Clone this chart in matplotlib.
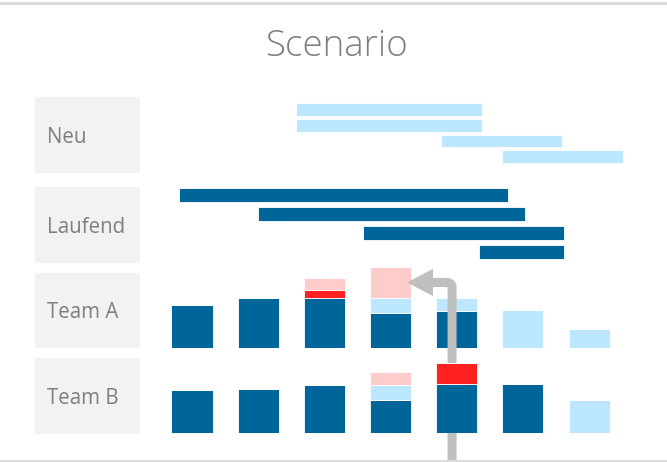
import matplotlib
matplotlib.use('Agg')
from matplotlib import pyplot as plt
from matplotlib.lines import Line2D
import numpy as np

# --- data -------------------------------------------------------------
row_labels = ['Neu', 'Laufend', 'Team A', 'Team B']

# Gantt rows: start / end on the period axis (column index)
neu_start = [1.57, 1.57, 3.76, 4.68]
neu_end = [4.38, 4.38, 5.59, 6.51]
lauf_start = [-0.20, 0.99, 2.59, 4.34]
lauf_end = [4.78, 5.04, 5.62, 5.62]

# capacity columns per period
periods = np.arange(7)
a_dark = [8.6, 9.9, 10.0, 6.9, 7.4, 0, 0]
a_light = [0, 0, 0, 3.0, 2.5, 7.5, 3.7]
a_red = [0, 0, 1.5, 0, 0, 0, 0]
a_pink = [0, 0, 2.4, 6.3, 0, 0, 0]

b_dark = [8.5, 8.7, 9.5, 6.5, 9.7, 9.7, 0]
b_light = [0, 0, 0, 3.1, 0, 0, 6.6]
b_red = [0, 0, 0, 0, 4.3, 0, 0]
b_pink = [0, 0, 0, 2.5, 0, 0, 0]

# --- style ------------------------------------------------------------
DARK = '#006699'
LIGHT = '#bde7ff'
RED = '#ff2121'
PINK = '#ffcccc'
BOX = '#f2f2f2'
TXT = '#7f7f7f'
ARROW = '#bfbfbf'

W, H = 667, 462
X0, STEP = 192, 66.17      # pixel of period 0 and pixels per period
L, R = 146, 662
XLIM = ((L - X0) / STEP, (R - X0) / STEP)
BAR_W = 0.62
PX_PER_UNIT = 5.0

fig = plt.figure(figsize=(W / 100, H / 100), dpi=100)
fig.patch.set_facecolor('white')


def px_axes(x0, y0, x1, y1):
    ax = fig.add_axes([x0 / W, 1 - y1 / H, (x1 - x0) / W, (y1 - y0) / H])
    ax.set_axis_off()
    ax.patch.set_alpha(0)
    return ax


# frame lines
for y in (2.5, 460.5):
    fig.add_artist(Line2D([0, 1], [1 - y / H, 1 - y / H], color='#dcdcdc',
                          lw=2.2, transform=fig.transFigure))

fig.text(336 / W, 1 - 46 / H, 'Scenario', ha='center', va='center',
         fontsize=26.5, color=TXT, family='Open Sans', weight='light')

# label boxes
boxes = [(97, 173), (187, 263), (273, 348), (358, 434)]
for label, (top, bottom) in zip(row_labels, boxes):
    lax = px_axes(35, top, 140, bottom)
    lax.set_axis_on()
    lax.patch.set_alpha(1)
    lax.set_facecolor(BOX)
    lax.set_xticks([])
    lax.set_yticks([])
    for s in lax.spines.values():
        s.set_visible(False)
    lax.text(12 / 105, 0.5 - 2.5 / (bottom - top), label,
             transform=lax.transAxes, ha='left', va='center',
             fontsize=14.8, color=TXT, family='Open Sans')


def gantt(ax, start, end, color, height):
    start = np.array(start)
    end = np.array(end)
    ax.barh(np.arange(len(start)), end - start, left=start, height=height,
            color=color, edgecolor='white', linewidth=0.6)
    ax.set_xlim(*XLIM)


ax_neu = px_axes(L, 97, R, 173)
gantt(ax_neu, neu_start, neu_end, LIGHT, 0.81)
ax_neu.set_ylim(4.04, -0.81)

ax_lauf = px_axes(L, 187, R, 263)
gantt(ax_lauf, lauf_start, lauf_end, DARK, 0.70)
ax_lauf.set_ylim(3.58, -0.42)


def stacked(ax, parts):
    bottom = np.zeros(len(periods))
    for vals, color in parts:
        vals = np.array(vals, dtype=float)
        ax.bar(periods, vals, bottom=bottom, width=BAR_W, color=color,
               edgecolor='white', linewidth=0.6)
        bottom += vals
    ax.set_xlim(*XLIM)
    ax.set_ylim(0, 86 / PX_PER_UNIT)


ax_a = px_axes(L, 347.7 - 86, R, 347.7)
stacked(ax_a, [(a_dark, DARK), (a_light, LIGHT), (a_red, RED), (a_pink, PINK)])

ax_b = px_axes(L, 432.7 - 86, R, 432.7)
stacked(ax_b, [(b_dark, DARK), (b_light, LIGHT), (b_red, RED), (b_pink, PINK)])

# arrow pointing at the requested block of Team A
tip_x = 3 + BAR_W / 2 - 0.06
tip_y = a_dark[3] + a_light[3] + a_pink[3] / 2
head_len = 26 / STEP
ax_a.annotate('', xy=(tip_x + head_len, tip_y), xycoords='data',
              xytext=(3.93, 0), textcoords=('data', 'figure fraction'),
              arrowprops=dict(arrowstyle='-', color=ARROW, lw=6.5,
                              connectionstyle='angle,angleA=90,angleB=0,rad=5',
                              shrinkA=0, shrinkB=0),
              annotation_clip=False, zorder=5)
ax_a.annotate('', xy=(tip_x, tip_y), xycoords='data',
              xytext=(tip_x + head_len + 0.06, tip_y),
              arrowprops=dict(arrowstyle='simple,head_length=1.87,head_width=1.97,tail_width=0.65',
                              color=ARROW, lw=0, shrinkA=0, shrinkB=0,
                              mutation_scale=10),
              annotation_clip=False, zorder=5)

plt.savefig('out.png', dpi=100)
